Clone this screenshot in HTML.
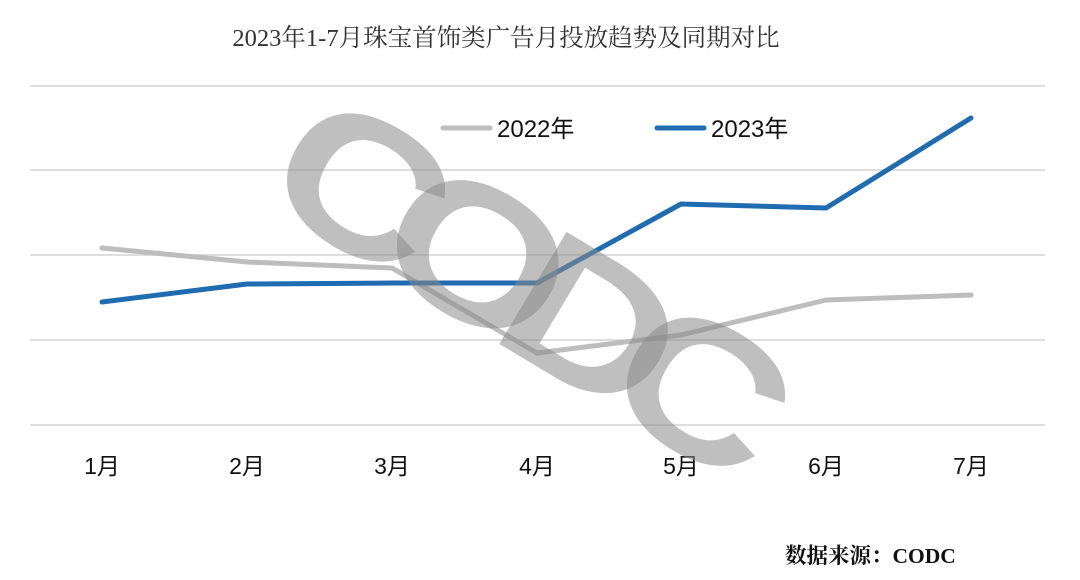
<!DOCTYPE html>
<html><head><meta charset="utf-8"><style>
html,body{margin:0;padding:0;background:#fff;}
svg{display:block;}
</style></head><body>
<svg width="1080" height="580" viewBox="0 0 1080 580" xmlns="http://www.w3.org/2000/svg">
<rect width="1080" height="580" fill="#fff"/>
<text x="506" y="46" text-anchor="middle" font-family="'Liberation Serif','Noto Serif CJK SC',serif" font-size="24.5" fill="#333">2023年1-7月珠宝首饰类广告月投放趋势及同期对比</text>
<g stroke="#d4d4d4" stroke-width="1.5">
<line x1="30" y1="86" x2="1045" y2="86"/>
<line x1="30" y1="170" x2="1045" y2="170"/>
<line x1="30" y1="255" x2="1045" y2="255"/>
<line x1="30" y1="340" x2="1045" y2="340"/>
<line x1="30" y1="425" x2="1045" y2="425"/>
</g>
<polyline points="102,248 247,262 392,268 537,353 681,335 826,300 971,295" fill="none" stroke="#bdbdbd" stroke-width="5" stroke-linejoin="round" stroke-linecap="round"/>
<polyline points="102,302 247,284 392,283 537,283 681,204 826,208 971,118" fill="none" stroke="#1f6cb0" stroke-width="5" stroke-linejoin="round" stroke-linecap="round"/>
<line x1="443" y1="128" x2="490" y2="128" stroke="#bdbdbd" stroke-width="5" stroke-linecap="round"/>
<text x="497" y="137" font-family="'Liberation Sans','Noto Sans CJK SC',sans-serif" font-size="24" fill="#111">2022年</text>
<line x1="657" y1="128" x2="704" y2="128" stroke="#1f6cb0" stroke-width="5" stroke-linecap="round"/>
<text x="711" y="137" font-family="'Liberation Sans','Noto Sans CJK SC',sans-serif" font-size="24" fill="#111">2023年</text>
<g font-family="'Liberation Sans','Noto Sans CJK SC',sans-serif" font-size="23" fill="#111" text-anchor="middle">
<text x="102" y="474">1月</text><text x="247" y="474">2月</text><text x="392" y="474">3月</text><text x="537" y="474">4月</text><text x="681" y="474">5月</text><text x="826" y="474">6月</text><text x="971" y="474">7月</text>
</g>
<text transform="translate(515,274) rotate(31) scale(1.25,1)" x="0" y="68" text-anchor="middle" font-family="'Liberation Sans',sans-serif" font-weight="bold" font-size="190" letter-spacing="-35" fill="#8a8a8a" fill-opacity="0.55">CODC</text>
<text x="785" y="563" font-family="'Liberation Serif','Noto Serif CJK SC',serif" font-size="21.5" font-weight="bold" fill="#111">数据来源：CODC</text>
</svg>
</body></html>
